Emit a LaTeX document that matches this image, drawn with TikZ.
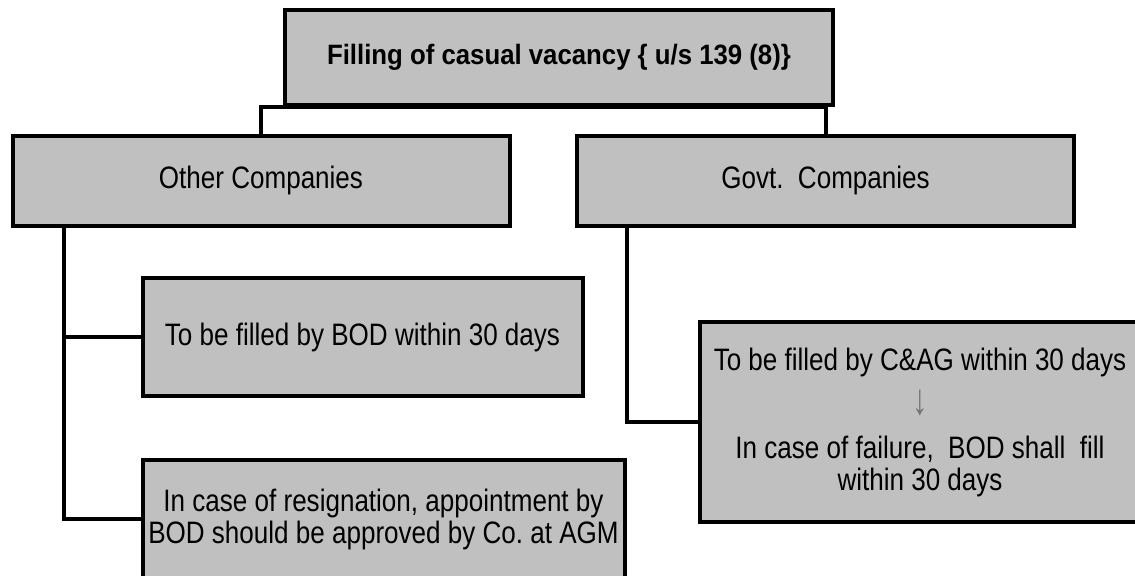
\documentclass[tikz,border=0pt]{standalone}
\usepackage{fontspec}
\setmainfont{Liberation Sans}
\usetikzlibrary{arrows.meta,calc,positioning}
\definecolor{boxfill}{RGB}{192,192,192}
\definecolor{boxline}{RGB}{0,0,0}
\newcommand{\sq}[1]{\scalebox{0.84}[1]{#1}}
\tikzset{
  chartbox/.style={draw=boxline,line width=2pt,fill=boxfill,inner sep=0pt,
    align=center,font=\fontsize{15.5pt}{16pt}\selectfont},
  chartlink/.style={draw=boxline,line width=2pt}
}

\begin{document}
\begin{tikzpicture}[x=0.5pt,y=-0.5pt]
  \useasboundingbox (0,0) rectangle (1135,575);
  \clip (0,0) rectangle (1135,575);
  \node[chartbox,minimum width=274pt,minimum height=47.5pt] (title) at (559,57.5)
    {\bfseries\fontsize{14pt}{16pt}\selectfont\scalebox{0.92}[1]{Filling of casual vacancy \{ u/s 139 (8)\}}};
  \node[chartbox,minimum width=248.5pt,minimum height=45pt] (other) at (261,180.5) {\sq{Other Companies}};
  \node[chartbox,minimum width=248.5pt,minimum height=45pt] (govt) at (825.5,180.5) {\sq{Govt.\ \ Companies}};
  \node[chartbox,minimum width=220pt,minimum height=58.75pt] (bod) at (362.5,337) {\sq{To be filled by BOD within 30 days}};
  \node[chartbox,minimum width=241pt,minimum height=58.75pt] (resign) at (383.5,519)
    {\sq{In case of resignation, appointment by}\\\sq{BOD should be approved by Co.\ at AGM}};
  \node[chartbox,minimum width=220pt,minimum height=100pt] (cag) at (920,422)
    {\sq{To be filled by C\&AG within 30 days}\\[6pt]{\color{black!55}\scalebox{1}[1.4]{↓}}\\[6pt]\sq{In case of failure,\ \ BOD shall\ \ fill}\\\sq{within 30 days}};
  \coordinate (otrunk) at (64,225.5);
  \coordinate (gtrunk) at (627,225.5);
  \draw[chartlink] (other.north) |- (title.south) -| (govt.north);
  \draw[chartlink] (otrunk) |- (bod.west);
  \draw[chartlink] (otrunk) |- (resign.west);
  \draw[chartlink] (gtrunk) |- (cag.west);
\end{tikzpicture}
\end{document}
